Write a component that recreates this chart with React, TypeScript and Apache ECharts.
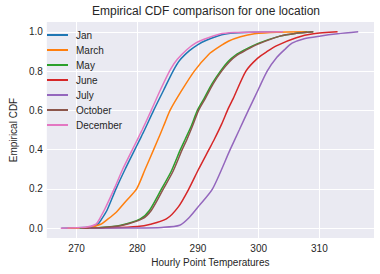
import React, { useEffect, useRef } from "react";
import * as echarts from "echarts";

const seriesNames = ["Jan", "March", "May", "June", "July", "October", "December"];
const colors = ["#1f77b4", "#ff7f0e", "#2ca02c", "#d62728", "#9467bd", "#8c564b", "#e377c2"];

const xTicks = [270, 280, 290, 300, 310];
const yTicks = [0, 0.2, 0.4, 0.6, 0.8, 1.0];

const janData = [
  [267.5, 0], [272.0, 0.005], [273.5, 0.02], [274.1, 0.045], [275.0, 0.09], [276.5, 0.2],
  [278.0, 0.3], [279.6, 0.4], [280.4, 0.45], [281.2, 0.5], [282.7, 0.6], [284.3, 0.7],
  [285.9, 0.8], [287.0, 0.855], [288.6, 0.904], [290.0, 0.935], [291.3, 0.956], [293.9, 0.985],
  [296.0, 0.994], [300.0, 0.999], [304.0, 1.0],
];
const marchData = [
  [268.5, 0], [272.0, 0.003], [274.0, 0.02], [274.9, 0.04], [276.5, 0.08], [278.2, 0.14],
  [279.9, 0.2], [281.3, 0.3], [282.7, 0.4], [283.8, 0.48], [284.6, 0.54], [285.4, 0.6],
  [287.3, 0.7], [289.4, 0.8], [291.8, 0.886], [293.4, 0.922], [295.0, 0.952], [297.0, 0.975],
  [299.3, 0.99], [303.0, 0.998], [308.0, 1.0],
];
const mayData = [
  [270.5, 0], [274.0, 0.003], [277.3, 0.015], [280.5, 0.047], [282.0, 0.09], [284.0, 0.2],
  [285.6, 0.29], [287.1, 0.4], [287.9, 0.453], [288.9, 0.52], [289.9, 0.6], [291.0, 0.66],
  [292.3, 0.735], [293.7, 0.8], [295.0, 0.85], [296.2, 0.882], [297.5, 0.905], [299.8, 0.94],
  [303.5, 0.978], [306.0, 0.992], [309.0, 1.0],
];
const juneData = [
  [271.0, 0], [276.0, 0.002], [280.0, 0.008], [282.2, 0.02], [284.8, 0.047], [286.8, 0.11],
  [288.5, 0.2], [290.1, 0.3], [291.8, 0.4], [292.7, 0.453], [293.9, 0.53], [295.0, 0.61],
  [295.8, 0.66], [297.9, 0.8], [299.8, 0.865], [301.4, 0.9], [303.0, 0.93], [306.2, 0.97],
  [309.0, 0.99], [313.0, 1.0],
];
const julyData = [
  [272.0, 0], [280.0, 0.001], [284.0, 0.004], [287.0, 0.015], [288.6, 0.056], [290.2, 0.115],
  [292.4, 0.2], [295.3, 0.4], [296.8, 0.5], [298.3, 0.6], [300.0, 0.71], [301.4, 0.8],
  [303.0, 0.87], [304.3, 0.91], [305.5, 0.942], [307.5, 0.965], [310.0, 0.978], [313.0, 0.99],
  [316.4, 1.0],
];
const octoberData = [
  [270.8, 0], [274.3, 0.003], [277.6, 0.015], [280.8, 0.047], [282.3, 0.09], [284.3, 0.2],
  [285.9, 0.29], [287.4, 0.4], [288.2, 0.453], [289.1, 0.52], [290.1, 0.6], [291.2, 0.66],
  [292.5, 0.735], [293.9, 0.8], [295.2, 0.848], [296.4, 0.88], [297.7, 0.903], [299.8, 0.936],
  [303.5, 0.978], [306.0, 0.992], [309.0, 1.0],
];
const decemberData = [
  [267.4, 0], [271.5, 0.005], [273.2, 0.02], [273.8, 0.048], [274.7, 0.1], [276.2, 0.2],
  [277.6, 0.3], [279.2, 0.4], [280.0, 0.45], [280.8, 0.5], [282.3, 0.6], [283.9, 0.71],
  [285.5, 0.81], [286.6, 0.86], [288.2, 0.91], [289.6, 0.942], [291.0, 0.962], [293.5, 0.988],
  [296.0, 0.996], [300.0, 0.999], [304.0, 1.0],
];

const allData = [janData, marchData, mayData, juneData, julyData, octoberData, decemberData];

const FONT = "'Liberation Sans', Arial, 'DejaVu Sans', sans-serif";
const TXT = "#262626";

export default function App() {
  const ref = useRef<HTMLDivElement>(null);
  useEffect(() => {
    if (!ref.current) return;
    const chart = echarts.init(ref.current, undefined, { renderer: "svg" });
    chart.setOption({
      animation: false,
      backgroundColor: "#ffffff",
      textStyle: { fontFamily: FONT, color: TXT },
      title: {
        text: "Empirical CDF comparison for one location",
        left: 206,
        textAlign: "center",
        top: 5,
        padding: 0,
        textStyle: { fontSize: 12, fontWeight: "normal", color: TXT, fontFamily: FONT },
      },
      legend: {
        orient: "vertical",
        left: 47,
        top: 30,
        padding: 0,
        itemWidth: 21,
        itemHeight: 10,
        itemGap: 5,
        icon: "path://M0,0 M0,4 H21 V6 H0 Z M21,10",
        data: seriesNames,
        textStyle: { fontSize: 10, color: TXT, fontFamily: FONT, padding: [0, 0, 0, 3] },
      },
      grid: { left: 39, right: 6, top: 22, bottom: 36, show: true, backgroundColor: "#EAEAF2", borderWidth: 0 },
      xAxis: {
        type: "value",
        min: 265.1,
        max: 319.0,
        name: "Hourly Point Temperatures",
        nameLocation: "middle",
        nameGap: 18,
        nameTextStyle: { fontSize: 10, color: TXT, fontFamily: FONT },
        axisLine: { show: false },
        axisTick: { show: false, customValues: xTicks },
        axisLabel: { customValues: xTicks, fontSize: 10, color: TXT, margin: 5, fontFamily: FONT },
        splitLine: { show: true, lineStyle: { color: "#ffffff", width: 1 } },
      },
      yAxis: {
        type: "value",
        min: -0.05,
        max: 1.05,
        name: "Empirical CDF",
        nameLocation: "middle",
        nameGap: 25,
        nameTextStyle: { fontSize: 10, color: TXT, fontFamily: FONT },
        axisLine: { show: false },
        axisTick: { show: false, customValues: yTicks },
        axisLabel: {
          customValues: yTicks,
          fontSize: 10,
          color: TXT,
          margin: 4,
          fontFamily: FONT,
          formatter: (v: number) => v.toFixed(1),
        },
        splitLine: { show: true, lineStyle: { color: "#ffffff", width: 1 } },
      },
      series: seriesNames.map((name, i) => ({
        name,
        type: "line",
        data: allData[i],
        symbol: "none",
        smooth: 0.25,
        color: colors[i],
        lineStyle: { width: 1.5, color: colors[i] },
      })),
    });
    return () => chart.dispose();
  }, []);
  return <div ref={ref} style={{ width: 380, height: 274, position: "absolute", left: 0, top: 0 }} />;
}
